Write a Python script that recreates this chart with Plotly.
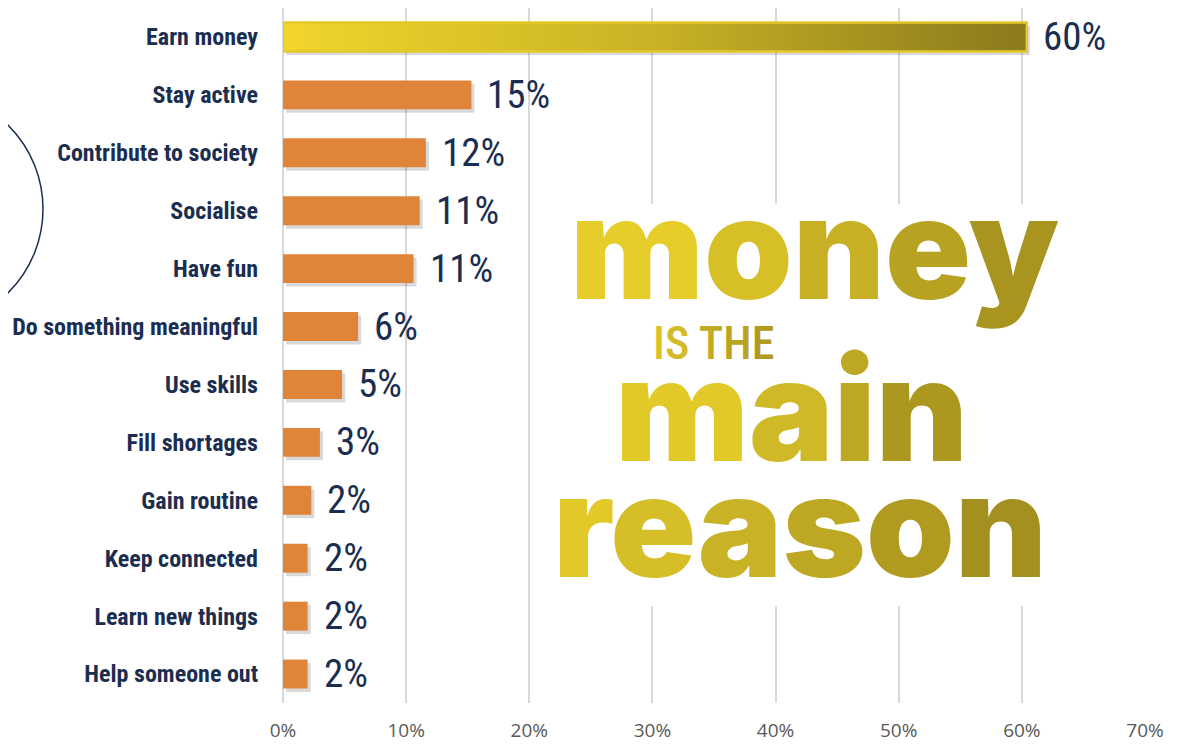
import plotly.graph_objects as go

categories = ["Earn money", "Stay active", "Contribute to society", "Socialise", "Have fun",
              "Do something meaningful", "Use skills", "Fill shortages", "Gain routine",
              "Keep connected", "Learn new things", "Help someone out"]
values = [60.4, 15.3, 11.6, 11.1, 10.6, 6.1, 4.8, 3.0, 2.3, 2.0, 2.0, 2.0]
labels = ["60%", "15%", "12%", "11%", "11%", "6%", "5%", "3%", "2%", "2%", "2%", "2%"]
x_ticks = [0, 10, 20, 30, 40, 50, 60, 70]
x_tick_labels = ["0%", "10%", "20%", "30%", "40%", "50%", "60%", "70%"]

# the page body has an 8px margin, so the figure is sized to the visible window
OFF = 8
W, H = 1179 - OFF, 745 - OFF
L, R, T, B = 283 - OFF, 34, 0, 42
PW, PH = W - L - R, H - T - B

def px(X):
    return (X - OFF - L) / PW

def py(Y):
    return (H - B - (Y - OFF)) / PH

def cond(s):
    return '<span style="font-stretch:condensed">%s</span>' % s

NAVY = "#1B2E50"
ORANGE = "#E0843A"
COND = "Roboto, sans-serif"

idx = list(range(len(categories)))
fig = go.Figure()

# shadows
fig.add_trace(go.Bar(
    x=values[1:], y=[i + 0.06 for i in idx[1:]], base=0.25, orientation="h",
    width=0.5, marker=dict(color="rgba(0,0,0,0.15)", line=dict(width=0)),
    hoverinfo="skip", showlegend=False))
fig.add_trace(go.Bar(
    x=values[1:], y=idx[1:], orientation="h", width=0.5,
    marker=dict(color=ORANGE, line=dict(width=0)), showlegend=False))

# gradient bar for top item
v0 = values[0]
fig.add_trace(go.Scatter(
    x=[0.25, v0 + 0.25, v0 + 0.25, 0.25, 0.25],
    y=[idx[0] - 0.19, idx[0] - 0.19, idx[0] + 0.31, idx[0] + 0.31, idx[0] - 0.19],
    fill="toself", fillcolor="rgba(0,0,0,0.15)", line=dict(width=0),
    mode="lines", hoverinfo="skip", showlegend=False))
fig.add_trace(go.Scatter(
    x=[0, v0, v0, 0, 0],
    y=[idx[0] - 0.25, idx[0] - 0.25, idx[0] + 0.25, idx[0] + 0.25, idx[0] - 0.25],
    fill="toself",
    fillgradient=dict(type="horizontal",
                      colorscale=[[0, "#F0D62C"], [0.5, "#C9B225"], [1, "#8A7A1B"]]),
    line=dict(color="#E4C82A", width=2.5), mode="lines",
    hoverinfo="skip", showlegend=False))

annotations = []
for i, (v, lab) in enumerate(zip(values, labels)):
    annotations.append(dict(x=v, y=i, xref="x", yref="y", text=cond(lab), showarrow=False,
                            xanchor="left", yanchor="middle", xshift=14,
                            font=dict(family=COND, size=39, color=NAVY)))

def grad_text(word, c0, c1, extra=""):
    def hx(c):
        return [int(c[k:k + 2], 16) for k in (1, 3, 5)]
    a, b = hx(c0), hx(c1)
    n = max(len(word) - 1, 1)
    out = ""
    for k, ch in enumerate(word):
        t = k / n
        c = "#%02X%02X%02X" % tuple(round(a[j] + (b[j] - a[j]) * t) for j in range(3))
        out += '<span style="color:%s;%s">%s</span>' % (c, extra, ch)
    return out

BIG = "Inter, Roboto, sans-serif"
annotations += [
    dict(x=px(814), y=py(247), xref="paper", yref="paper", showarrow=False,
         text=grad_text("money", "#E6CD2A", "#A8941F"),
         font=dict(family=BIG, size=142, weight=900), xanchor="center", yanchor="middle"),
    dict(x=px(713), y=py(343), xref="paper", yref="paper", showarrow=False,
         text=grad_text("IS THE", "#DCC22A", "#B09B20", "font-stretch:condensed"),
         font=dict(family=COND, size=46, weight=500), xanchor="center", yanchor="middle"),
    dict(x=px(791), y=py(409), xref="paper", yref="paper", showarrow=False,
         text=grad_text("main", "#E2C92A", "#AC981F"),
         font=dict(family=BIG, size=142, weight=900), xanchor="center", yanchor="middle"),
    dict(x=px(800), y=py(525), xref="paper", yref="paper", showarrow=False,
         text=grad_text("reason", "#E2C92A", "#A4901E"),
         font=dict(family=BIG, size=142, weight=900), xanchor="center", yanchor="middle"),
]

shapes = [
    dict(type="rect", xref="paper", yref="paper", x0=px(545), x1=px(1078),
         y0=py(606), y1=py(204), fillcolor="white", line=dict(width=0), layer="above"),
    dict(type="circle", xref="paper", yref="paper", x0=px(-193), x1=px(43),
         y0=py(327), y1=py(91), line=dict(color=NAVY, width=1.5), layer="above"),
]

fig.update_layout(
    width=W, height=H, margin=dict(l=L, r=R, t=T, b=B, autoexpand=False),
    paper_bgcolor="white", plot_bgcolor="white",
    barmode="overlay", bargap=0.5, showlegend=False,
    annotations=annotations, shapes=shapes,
    xaxis=dict(range=[0, 70], tickvals=x_ticks, ticktext=x_tick_labels,
               showgrid=True, gridcolor="#D9D9D9", gridwidth=1.5,
               zeroline=True, zerolinecolor="#D9D9D9", zerolinewidth=2,
               showline=False, ticks="", ticklabelstandoff=14, automargin=False,
               tickfont=dict(family="Open Sans, Liberation Sans, sans-serif", size=19, color="#595959")),
    yaxis=dict(range=[len(categories) - 0.5, -0.5], tickvals=idx,
               ticktext=[cond(c) for c in categories],
               showgrid=False, zeroline=False, showline=False, ticks="",
               ticklabelstandoff=24, automargin=False,
               tickfont=dict(family=COND, size=24, color=NAVY, weight="bold")),
)

fig.write_html("out.html")
